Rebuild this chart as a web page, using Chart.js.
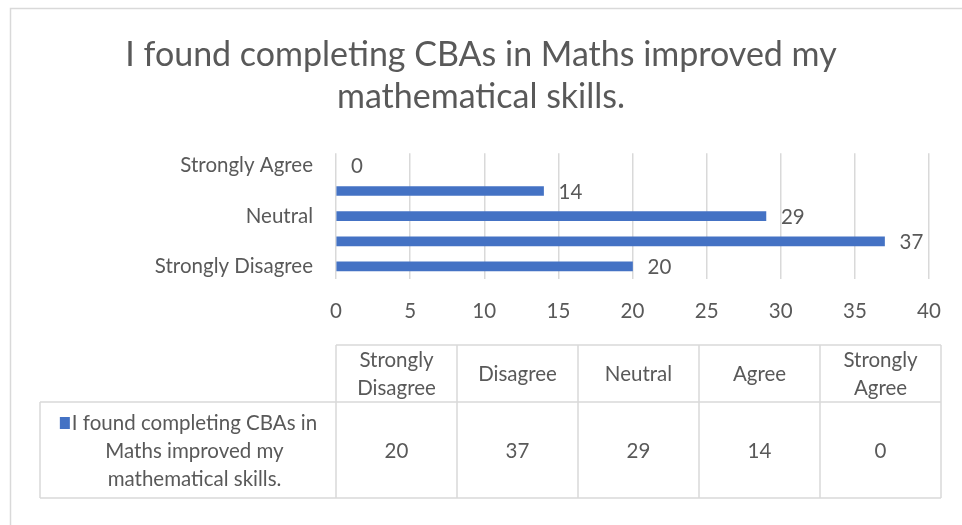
<!DOCTYPE html>
<html>
<head>
<meta charset="utf-8">
<script src="https://cdn.jsdelivr.net/npm/chart.js@4.4.0/dist/chart.umd.min.js"></script>
<style>
  html, body { margin: 0; padding: 0; background: #fff; }
  #wrap { width: 962px; height: 525px; }
</style>
</head>
<body>
<div id="wrap"><canvas id="chart" width="962" height="525"></canvas></div>
<script>
// ---- data ----
const categories = ['Strongly Disagree', 'Disagree', 'Neutral', 'Agree', 'Strongly Agree'];
const values = [20, 37, 29, 14, 0];
const seriesName = 'I found completing CBAs in Maths improved my mathematical skills.';
const titleLines = ['I found completing CBAs in Maths improved my', 'mathematical skills.'];
const headerLines = [['Strongly', 'Disagree'], ['Disagree'], ['Neutral'], ['Agree'], ['Strongly', 'Agree']];
const seriesLines = ['I found completing CBAs in', 'Maths improved my', 'mathematical skills.'];
const xMin = 0, xMax = 40, xStep = 5;

const FONT = 'Lato, "Open Sans", sans-serif';
const GREY = '#595959';
const LINE = '#d9d9d9';
const BLUE = '#4472C4';
const FS = 20.5;

// outer frame (Excel chart border, cropped on right/bottom)
const framePlugin = {
  id: 'frame',
  beforeDraw(chart) {
    const c = chart.ctx;
    c.save();
    c.strokeStyle = LINE;
    c.lineWidth = 1.5;
    c.beginPath();
    c.moveTo(10.5, chart.height);
    c.lineTo(10.5, 8.5);
    c.lineTo(chart.width, 8.5);
    c.stroke();
    c.restore();
  }
};

// value labels at bar ends
const valueLabels = {
  id: 'valueLabels',
  afterDatasetsDraw(chart) {
    const c = chart.ctx;
    const meta = chart.getDatasetMeta(0);
    c.save();
    c.fillStyle = GREY;
    c.font = `${FS}px ${FONT}`;
    c.textAlign = 'left';
    c.textBaseline = 'middle';
    meta.data.forEach((bar, i) => {
      c.fillText(String(values[i]), bar.x + 15, bar.y + 1);
    });
    c.restore();
  }
};

// data table below the plot
const dataTable = {
  id: 'dataTable',
  afterDraw(chart) {
    const c = chart.ctx;
    const left = 40, colStart = chart.chartArea.left, colW = 121;
    const right = colStart + colW * categories.length;
    const yTop = 345, yMid = 402, yBot = 498;
    const lh = 28;

    c.save();
    c.strokeStyle = LINE;
    c.lineWidth = 1.5;
    c.beginPath();
    c.moveTo(colStart, yTop); c.lineTo(right, yTop);
    c.moveTo(left, yMid); c.lineTo(right, yMid);
    c.moveTo(left, yBot); c.lineTo(right, yBot);
    c.moveTo(left, yMid); c.lineTo(left, yBot);
    for (let i = 0; i <= categories.length; i++) {
      const x = colStart + colW * i;
      c.moveTo(x, yTop); c.lineTo(x, yBot);
    }
    c.stroke();

    c.fillStyle = GREY;
    c.font = `${FS}px ${FONT}`;
    c.textAlign = 'center';
    c.textBaseline = 'middle';

    // header row
    const hMid = (yTop + yMid) / 2 + 1;
    headerLines.forEach((lines, i) => {
      const cx = colStart + colW * (i + 0.5);
      const y0 = hMid - (lines.length - 1) * lh / 2;
      lines.forEach((t, j) => c.fillText(t, cx, y0 + j * lh));
    });

    // values row
    const vMid = (yMid + yBot) / 2 + 1;
    values.forEach((v, i) => {
      c.fillText(String(v), colStart + colW * (i + 0.5), vMid);
    });

    // series name cell with legend key just left of the first line
    const textCx = (53 + colStart) / 2;
    const y0 = vMid - (seriesLines.length - 1) * lh / 2;
    seriesLines.forEach((t, j) => c.fillText(t, textCx, y0 + j * lh));
    const firstW = c.measureText(seriesLines[0]).width;
    c.fillStyle = BLUE;
    c.fillRect(textCx - firstW / 2 - 12, y0 - 6, 10, 12);
    c.restore();
  }
};

const ctx = document.getElementById('chart').getContext('2d');
new Chart(ctx, {
  type: 'bar',
  data: {
    labels: categories,
    datasets: [{
      label: seriesName,
      data: values,
      // a zero-length bar should leave no sliver
      backgroundColor: (c) => (c.raw === 0 ? 'rgba(0,0,0,0)' : BLUE),
      barThickness: 9
    }]
  },
  options: {
    indexAxis: 'y',
    responsive: false,
    animation: false,
    layout: { padding: { top: 0, right: 33, bottom: 186, left: 33 } },
    plugins: {
      legend: { display: false },
      tooltip: { enabled: false },
      title: {
        display: true,
        text: titleLines,
        color: GREY,
        font: { family: FONT, size: 34, weight: 'normal', lineHeight: 1.24 },
        padding: { top: 34, bottom: 35 }
      }
    },
    scales: {
      x: {
        min: xMin,
        max: xMax,
        ticks: { stepSize: xStep, color: GREY, font: { family: FONT, size: FS }, padding: 20 },
        grid: { color: LINE, lineWidth: 1.5, drawTicks: false },
        border: { display: false },
        afterFit: (s) => { s.height = 60; }
      },
      y: {
        reverse: true,
        ticks: {
          autoSkip: false,
          color: GREY,
          font: { family: FONT, size: FS },
          padding: 23,
          callback: (v, i) => (i % 2 === 0 ? categories[i] : '')
        },
        grid: { display: false, drawTicks: false },
        border: { display: false },
        afterFit: (s) => { s.width = 303; }
      }
    }
  },
  plugins: [framePlugin, valueLabels, dataTable]
});
</script>
</body>
</html>
